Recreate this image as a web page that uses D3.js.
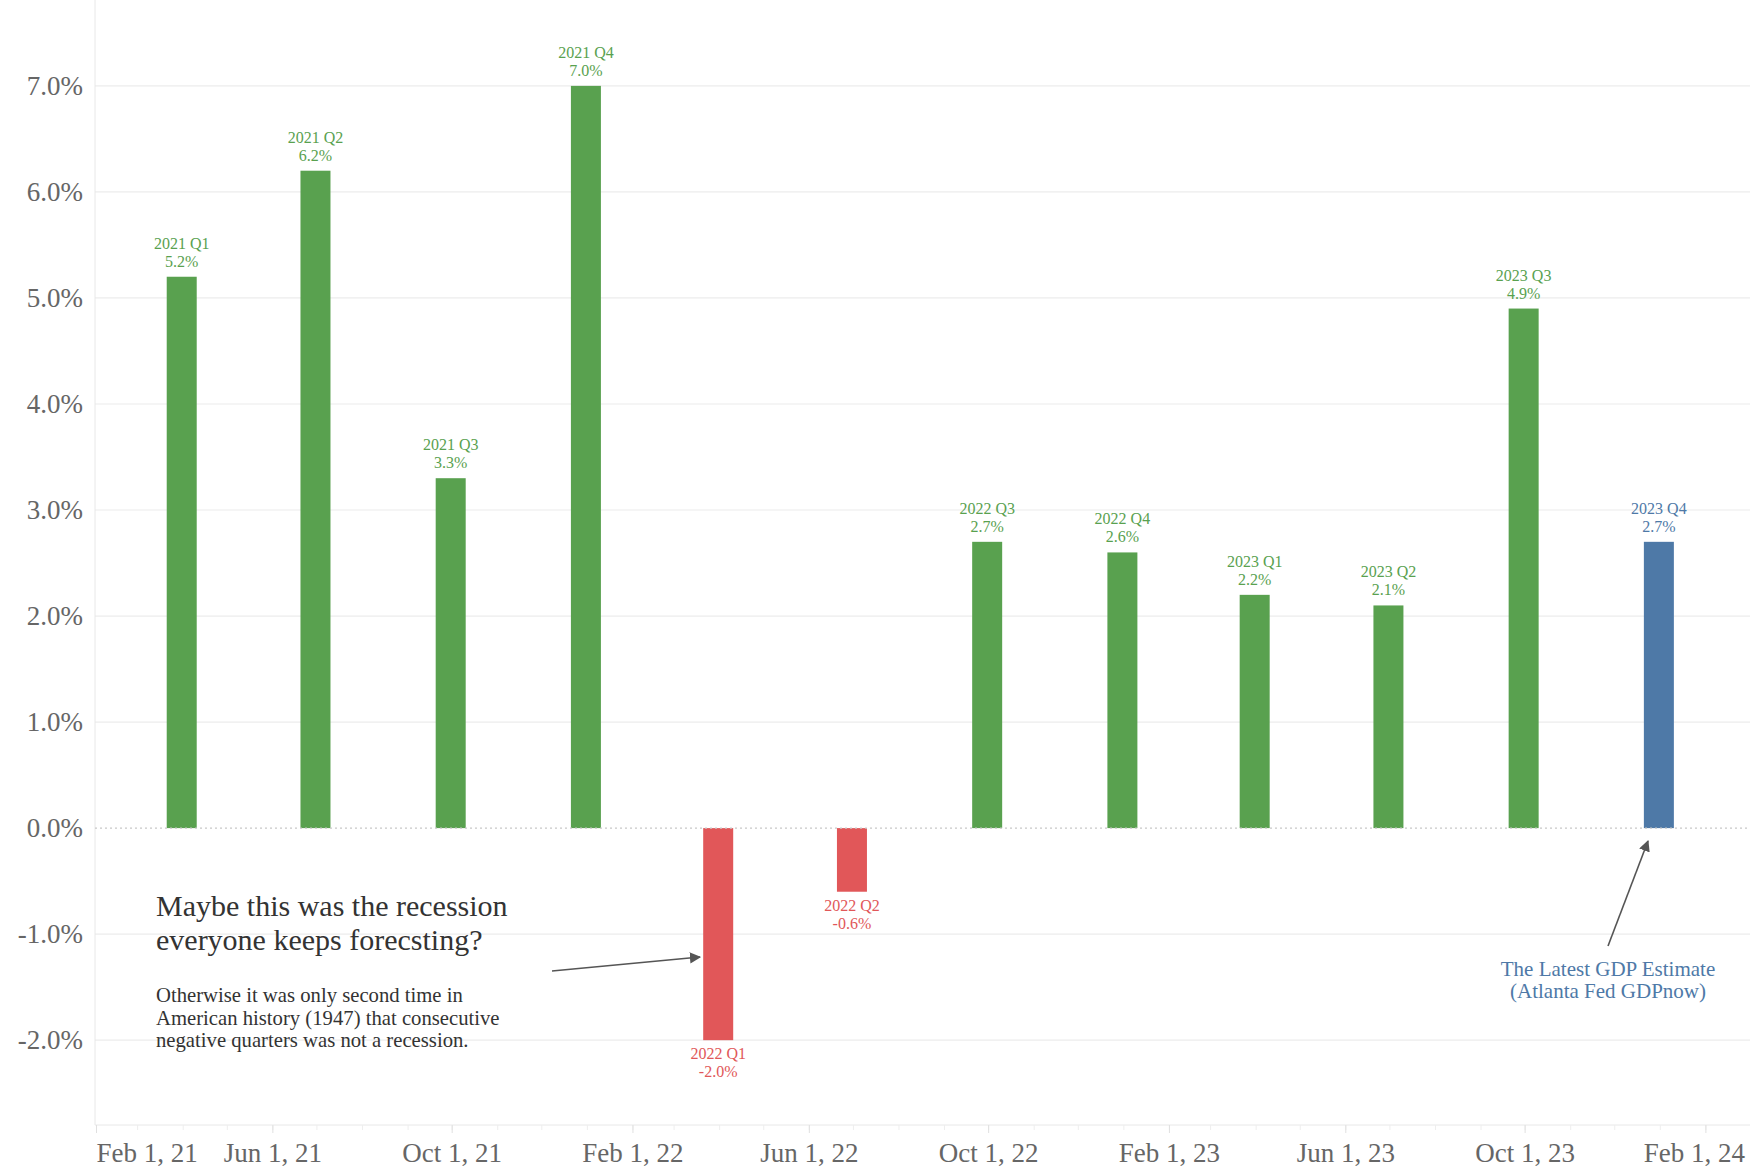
<!DOCTYPE html>
<html>
<head>
<meta charset="utf-8">
<script src="https://cdn.jsdelivr.net/npm/d3@7"></script>
<style>
  body { margin: 0; background: #fff; }
  text { font-family: "Liberation Serif", "DejaVu Serif", serif; }
</style>
</head>
<body>
<div id="dataviz"></div>
<script>
// quarterly real GDP growth (annualized)
var quarters = ["2021 Q1","2021 Q2","2021 Q3","2021 Q4","2022 Q1","2022 Q2",
                "2022 Q3","2022 Q4","2023 Q1","2023 Q2","2023 Q3","2023 Q4"];
var quarterEnds = ["2021-03-31","2021-06-30","2021-09-30","2021-12-31","2022-03-31","2022-06-30",
                   "2022-09-30","2022-12-31","2023-03-31","2023-06-30","2023-09-30","2023-12-31"];
var growth = [5.2, 6.2, 3.3, 7.0, -2.0, -0.6, 2.7, 2.6, 2.2, 2.1, 4.9, 2.7];
var isEstimate = [false,false,false,false,false,false,false,false,false,false,false,true];

var yTicks = [-2, -1, 0, 1, 2, 3, 4, 5, 6, 7];
var xTickDates = ["2021-02-01","2021-06-01","2021-10-01","2022-02-01","2022-06-01","2022-10-01",
                  "2023-02-01","2023-06-01","2023-10-01","2024-02-01"];

var width = 1750, height = 1170;
var plotLeft = 95, plotRight = 1750, plotBottom = 1125;

var svg = d3.select("#dataviz")
  .append("svg")
    .attr("width", width)
    .attr("height", height);

var parse = d3.utcParse("%Y-%m-%d");
// plain hyphen for negatives, like the original
var pct = function(d){ return d3.format(".1f")(d).replace("\u2212", "-") + "%"; };

var x = d3.scaleUtc()
  .domain([parse("2021-01-31"), parse("2024-03-02")])
  .range([plotLeft, plotRight]);

var y = d3.scaleLinear()
  .domain([-2.8, 7.81])
  .range([plotBottom, 0]);

var GREEN = "#59a14f", RED = "#e15759", BLUE = "#4e79a7";
function barColor(i) {
  if (isEstimate[i]) return BLUE;
  return growth[i] < 0 ? RED : GREEN;
}

// gridlines
svg.append("g")
  .selectAll("line")
  .data(yTicks.filter(function(d){ return d !== 0; }))
  .enter().append("line")
    .attr("x1", plotLeft).attr("x2", plotRight)
    .attr("y1", function(d){ return y(d); })
    .attr("y2", function(d){ return y(d); })
    .attr("stroke", "#ececec")
    .attr("stroke-width", 1.2);

// y labels
svg.append("g")
  .selectAll("text")
  .data(yTicks)
  .enter().append("text")
    .attr("x", 83)
    .attr("y", function(d){ return y(d) + 9; })
    .attr("text-anchor", "end")
    .attr("fill", "#666")
    .style("font-size", "27px")
    .text(pct);

// axis lines
svg.append("line")
  .attr("x1", plotLeft).attr("x2", plotLeft)
  .attr("y1", 0).attr("y2", plotBottom)
  .attr("stroke", "#e8e8e8");
svg.append("line")
  .attr("x1", plotLeft).attr("x2", plotRight)
  .attr("y1", plotBottom).attr("y2", plotBottom)
  .attr("stroke", "#e8e8e8");

// monthly minor ticks
svg.append("g")
  .selectAll("line")
  .data(d3.utcMonth.range(parse("2021-02-01"), parse("2024-03-01")))
  .enter().append("line")
    .attr("x1", function(d){ return x(d); })
    .attr("x2", function(d){ return x(d); })
    .attr("y1", plotBottom).attr("y2", plotBottom + 5)
    .attr("stroke", "#eeeeee");

// major ticks + labels
var fmt = d3.utcFormat("%b %-d, %y");
var xt = svg.append("g")
  .selectAll("g")
  .data(xTickDates.map(parse))
  .enter().append("g");
xt.append("line")
    .attr("x1", function(d){ return x(d); })
    .attr("x2", function(d){ return x(d); })
    .attr("y1", plotBottom).attr("y2", plotBottom + 8)
    .attr("stroke", "#e0e0e0");
xt.append("text")
    .attr("x", function(d, i){
      if (i === xTickDates.length - 1) return 1745;
      return x(d);
    })
    .attr("y", 1162)
    .attr("text-anchor", function(d, i){
      if (i === 0) return "start";
      if (i === xTickDates.length - 1) return "end";
      return "middle";
    })
    .attr("fill", "#666")
    .style("font-size", "27px")
    .text(function(d){ return fmt(d); });

// bars
var barW = 30;
svg.append("g")
  .selectAll("rect")
  .data(growth)
  .enter().append("rect")
    .attr("x", function(d, i){ return x(parse(quarterEnds[i])) - barW / 2; })
    .attr("y", function(d){ return y(Math.max(0, d)); })
    .attr("width", barW)
    .attr("height", function(d){ return Math.abs(y(d) - y(0)); })
    .attr("fill", function(d, i){ return barColor(i); });

// zero line (dotted)
svg.append("line")
  .attr("x1", plotLeft).attr("x2", plotRight)
  .attr("y1", y(0)).attr("y2", y(0))
  .attr("stroke", "#c8c8c8")
  .attr("stroke-width", 1.2)
  .attr("stroke-dasharray", "2,3");

// bar labels
var lbl = svg.append("g")
  .selectAll("g")
  .data(growth)
  .enter().append("g")
    .attr("fill", function(d, i){ return barColor(i); })
    .style("font-size", "16px")
    .attr("text-anchor", "middle");
lbl.append("text")
    .attr("x", function(d, i){ return x(parse(quarterEnds[i])); })
    .attr("y", function(d){ return d >= 0 ? y(d) - 28 : y(d) + 19; })
    .text(function(d, i){ return quarters[i]; });
lbl.append("text")
    .attr("x", function(d, i){ return x(parse(quarterEnds[i])); })
    .attr("y", function(d){ return d >= 0 ? y(d) - 10 : y(d) + 37; })
    .text(pct);

// arrow marker
svg.append("defs").append("marker")
    .attr("id", "arrow")
    .attr("viewBox", "0 0 10 10")
    .attr("refX", 9).attr("refY", 5)
    .attr("markerWidth", 7).attr("markerHeight", 7)
    .attr("markerUnits", "strokeWidth")
    .attr("orient", "auto")
  .append("path")
    .attr("d", "M0,0 L10,5 L0,10 z")
    .attr("fill", "#555");

// left annotation
var note = svg.append("g").attr("fill", "#333");
note.append("text").attr("x", 156).attr("y", 916).style("font-size", "30px")
  .text("Maybe this was the recession");
note.append("text").attr("x", 156).attr("y", 950).style("font-size", "30px")
  .text("everyone keeps forecsting?");
var small = ["Otherwise it was only second time in",
             "American history (1947) that consecutive",
             "negative quarters was not a recession."];
note.selectAll("text.small")
  .data(small)
  .enter().append("text")
    .classed("small", true)
    .attr("x", 156)
    .attr("y", function(d, i){ return 1002 + i * 22.5; })
    .style("font-size", "20.7px")
    .text(function(d){ return d; });

svg.append("line")
  .attr("x1", 552).attr("y1", 971)
  .attr("x2", 700).attr("y2", 957)
  .attr("stroke", "#555").attr("stroke-width", 1.6)
  .attr("marker-end", "url(#arrow)");

// right annotation
svg.append("line")
  .attr("x1", 1608).attr("y1", 946)
  .attr("x2", 1648).attr("y2", 841)
  .attr("stroke", "#555").attr("stroke-width", 1.6)
  .attr("marker-end", "url(#arrow)");

svg.append("text")
  .attr("x", 1608).attr("y", 976)
  .attr("text-anchor", "middle")
  .attr("fill", BLUE)
  .style("font-size", "21px")
  .text("The Latest GDP Estimate");
svg.append("text")
  .attr("x", 1608).attr("y", 998)
  .attr("text-anchor", "middle")
  .attr("fill", BLUE)
  .style("font-size", "21px")
  .text("(Atlanta Fed GDPnow)");
</script>
</body>
</html>
